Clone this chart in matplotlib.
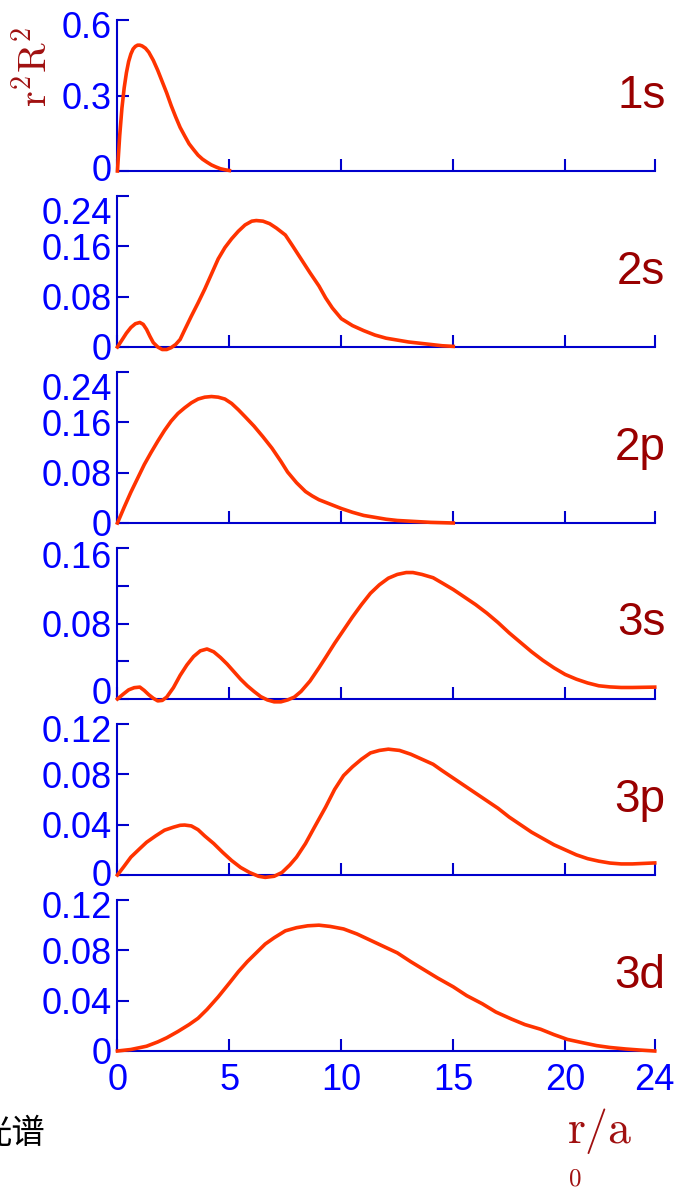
import matplotlib
matplotlib.use('Agg')
import matplotlib.pyplot as plt
import matplotlib.transforms as mtransforms

plt.rcParams['font.family'] = ['Liberation Sans', 'DejaVu Sans']
plt.rcParams['mathtext.fontset'] = 'stix'

# radial distribution r^2 R^2
r_1s = [0, 0.1, 0.2, 0.3, 0.4, 0.5, 0.6, 0.7, 0.8, 0.9, 1.0, 1.1, 1.25, 1.4, 1.6, 1.8, 2.0, 2.2, 2.4,
        2.6, 2.8, 3.0, 3.2, 3.4, 3.6, 3.8, 4.0, 4.2, 4.4, 4.6, 4.8, 5.0]
v_1s = [0, 0.14, 0.25, 0.33, 0.39, 0.435, 0.465, 0.485, 0.495, 0.5, 0.5, 0.497, 0.488, 0.472, 0.44,
        0.4, 0.355, 0.31, 0.26, 0.215, 0.173, 0.14, 0.108, 0.085, 0.063, 0.047, 0.035, 0.024, 0.016,
        0.009, 0.005, 0.002]

r_2s = [0, 0.2, 0.4, 0.6, 0.8, 1.0, 1.15, 1.3, 1.45, 1.6, 1.8, 2.0, 2.2, 2.4, 2.6, 2.8, 3.0, 3.3, 3.6,
        3.9, 4.2, 4.5, 4.8, 5.1, 5.4, 5.7, 6.0, 6.2, 6.5, 6.8, 7.1, 7.5, 7.8, 8.2, 8.6, 9.0, 9.3, 9.6,
        10, 10.5, 11, 11.5, 12, 12.5, 13, 13.5, 14, 14.5, 15]
v_2s = [0, 0.011, 0.022, 0.031, 0.037, 0.039, 0.036, 0.028, 0.017, 0.007, 0.0, -0.004, -0.004, -0.001,
        0.004, 0.012, 0.027, 0.049, 0.07, 0.092, 0.116, 0.14, 0.158, 0.172, 0.184, 0.194, 0.2, 0.201,
        0.2, 0.196, 0.189, 0.178, 0.162, 0.14, 0.118, 0.097, 0.078, 0.062, 0.045, 0.034, 0.026, 0.019,
        0.014, 0.011, 0.008, 0.006, 0.004, 0.002, 0.001]

r_2p = [0, 0.3, 0.6, 0.9, 1.2, 1.5, 1.8, 2.1, 2.4, 2.7, 3.0, 3.3, 3.6, 3.9, 4.2, 4.5, 4.8, 5.1, 5.4,
        5.7, 6.1, 6.5, 6.9, 7.3, 7.6, 8.0, 8.4, 8.7, 9.0, 9.5, 10, 10.5, 11, 11.5, 12, 12.5, 13, 13.5,
        14, 15]
v_2p = [0, 0.025, 0.049, 0.071, 0.093, 0.112, 0.13, 0.147, 0.162, 0.174, 0.183, 0.191, 0.197, 0.2,
        0.201, 0.2, 0.197, 0.19, 0.18, 0.169, 0.154, 0.137, 0.119, 0.098, 0.081, 0.064, 0.05, 0.043,
        0.037, 0.03, 0.023, 0.017, 0.012, 0.009, 0.006, 0.004, 0.003, 0.002, 0.001, 0]

r_3s = [0, 0.25, 0.5, 0.75, 1.0, 1.2, 1.4, 1.6, 1.8, 2.0, 2.2, 2.5, 2.8, 3.1, 3.4, 3.7, 4.0, 4.3, 4.6,
        4.9, 5.2, 5.5, 5.8, 6.1, 6.4, 6.7, 7.0, 7.3, 7.6, 7.9, 8.2, 8.6, 9.0, 9.3, 9.7, 10.1, 10.5,
        10.9, 11.3, 11.7, 12.1, 12.5, 12.9, 13.2, 13.6, 14.1, 14.5, 15, 15.5, 16, 16.5, 17, 17.5, 18,
        18.5, 19, 19.5, 20, 20.5, 21, 21.5, 22, 22.5, 23, 23.5, 24]
v_3s = [0, 0.005, 0.0097, 0.012, 0.0126, 0.009, 0.0045, 0.0008, -0.002, -0.0015, 0.002, 0.012, 0.025,
        0.036, 0.045, 0.051, 0.053, 0.05, 0.044, 0.037, 0.029, 0.021, 0.014, 0.008, 0.0025, -0.001,
        -0.003, -0.003, -0.001, 0.002, 0.008, 0.019, 0.033, 0.044, 0.059, 0.073, 0.087, 0.1, 0.112,
        0.121, 0.128, 0.132, 0.134, 0.134, 0.132, 0.1285, 0.123, 0.116, 0.108, 0.1, 0.091, 0.081, 0.07,
        0.06, 0.05, 0.041, 0.033, 0.026, 0.021, 0.017, 0.014, 0.0128, 0.0122, 0.0122, 0.0124, 0.0126]

r_3p = [0, 0.3, 0.6, 1.0, 1.3, 1.7, 2.1, 2.5, 2.8, 3.0, 3.3, 3.6, 3.9, 4.3, 4.7, 5.1, 5.5, 5.9, 6.3,
        6.6, 7.0, 7.35, 7.7, 8.0, 8.4, 8.8, 9.3, 9.7, 10.1, 10.5, 10.9, 11.3, 11.7, 12.1, 12.6, 13.1,
        13.6, 14.1, 14.5, 15, 15.5, 16, 16.5, 17, 17.5, 18, 18.5, 19, 19.5, 20, 20.5, 21, 21.5, 22,
        22.5, 23, 23.5, 24]
v_3p = [0, 0.007, 0.0142, 0.021, 0.026, 0.031, 0.0356, 0.038, 0.0395, 0.0397, 0.039, 0.036, 0.031,
        0.025, 0.018, 0.0115, 0.006, 0.002, -0.001, -0.0019, -0.001, 0.002, 0.008, 0.0142, 0.025, 0.038,
        0.054, 0.068, 0.079, 0.086, 0.092, 0.097, 0.099, 0.1, 0.099, 0.096, 0.092, 0.088, 0.083, 0.077,
        0.071, 0.065, 0.059, 0.053, 0.046, 0.04, 0.034, 0.029, 0.024, 0.02, 0.016, 0.013, 0.011, 0.0095,
        0.0088, 0.0088, 0.0092, 0.0096]

r_3d = [0, 0.6, 1.3, 1.8, 2.2, 2.7, 3.2, 3.6, 4.0, 4.5, 5.0, 5.4, 5.8, 6.2, 6.6, 7.0, 7.5, 8.0, 8.5,
        9.0, 9.5, 10.1, 10.7, 11.3, 11.9, 12.5, 13.1, 13.7, 14.3, 15, 15.6, 16.3, 16.9, 17.6, 18.2,
        18.9, 19.5, 20.1, 20.8, 21.4, 22, 22.7, 23.3, 24]
v_3d = [0, 0.0012, 0.0038, 0.0072, 0.0105, 0.0155, 0.021, 0.026, 0.033, 0.043, 0.054, 0.063, 0.071,
        0.078, 0.085, 0.09, 0.0955, 0.098, 0.0995, 0.1, 0.099, 0.097, 0.093, 0.088, 0.083, 0.078, 0.071,
        0.0645, 0.058, 0.051, 0.044, 0.0375, 0.031, 0.0254, 0.021, 0.0173, 0.013, 0.0092, 0.0065,
        0.0043, 0.0028, 0.0016, 0.0008, 0]

orbitals = ['1s', '2s', '2p', '3s', '3p', '3d']
curves = [(r_1s, v_1s), (r_2s, v_2s), (r_2p, v_2p), (r_3s, v_3s), (r_3p, v_3p), (r_3d, v_3d)]
ymax = [0.6, 0.24, 0.24, 0.16, 0.12, 0.12]
yticks = [[0, 0.3, 0.6], [0, 0.08, 0.16, 0.24], [0, 0.08, 0.16, 0.24],
          [0, 0.04, 0.08, 0.12, 0.16], [0, 0.04, 0.08, 0.12], [0, 0.04, 0.08, 0.12]]
ylabels = [['0', '0.3', '0.6'], ['0', '0.08', '0.16', '0.24'], ['0', '0.08', '0.16', '0.24'],
           ['0', '', '0.08', '', '0.16'], ['0', '0.04', '0.08', '0.12'], ['0', '0.04', '0.08', '0.12']]
xticks = [0, 5, 10, 15, 20, 24]
# pixel nudges: lowest label moved up, highest label moved down
low_up = [4, 0, 1, 8, 3, 0]
top_down = [5, 14, 15, 7, 4, 4]

axis_blue = '#0000CD'
label_blue = '#0000FF'
line_red = '#FF3300'
dark_red = '#990000'
serif_red = '#A01010'

fig = plt.figure(figsize=(6.75, 11.91), dpi=100)

for i, name in enumerate(orbitals):
    bottom = 1 - (171 + 176 * i) / 1191
    ax = fig.add_axes([0.174, bottom, 0.796, 151 / 1191])
    r, v = curves[i]
    ax.plot(r, v, color=line_red, lw=2.6, clip_on=False, zorder=3)
    ax.set_xlim(0, 24)
    ax.set_ylim(0, ymax[i])
    for s in ['top', 'right']:
        ax.spines[s].set_visible(False)
    for s in ['left', 'bottom']:
        ax.spines[s].set_color(axis_blue)
        ax.spines[s].set_linewidth(1.5)
    ax.set_xticks(xticks)
    ax.set_yticks(yticks[i])
    ax.set_yticklabels(ylabels[i])
    ax.tick_params(direction='in', length=8.5, width=1.5, color=axis_blue,
                   labelcolor=label_blue, labelsize=26, pad=4)
    ax.tick_params(axis='x', pad=9)
    if i < len(orbitals) - 1:
        ax.set_xticklabels([])
    labels = ax.get_yticklabels()
    for lab, dy in [(labels[0], low_up[i]), (labels[-1], -top_down[i])]:
        off = mtransforms.ScaledTranslation(0, dy / 100, fig.dpi_scale_trans)
        lab.set_transform(lab.get_transform() + off)
    ax.text(1.02, 0.5, name, transform=ax.transAxes, ha='right', va='center',
            fontsize=33, color=dark_red)

fig.text(34 / 675, 1 - 67 / 1191, r'$\mathrm{r^2R^2}$', rotation=90, ha='center', va='center',
         fontsize=29, color=serif_red, math_fontfamily='cm')
fig.text(600 / 675, 1 - 1131 / 1191, r'$\mathrm{r/a}$', ha='center', va='center', fontsize=33,
         color=serif_red, math_fontfamily='cm')
fig.text(575 / 675, 1 - 1178 / 1191, r'$\mathrm{0}$', ha='center', va='center', fontsize=18,
         color=serif_red, math_fontfamily='cm')
fig.text(46 / 675, 1 - 1133 / 1191, '光谱', ha='right', va='center', fontsize=24,
         color='black', family=['Noto Sans CJK SC', 'DejaVu Sans'])

fig.savefig('out.png', dpi=100)
